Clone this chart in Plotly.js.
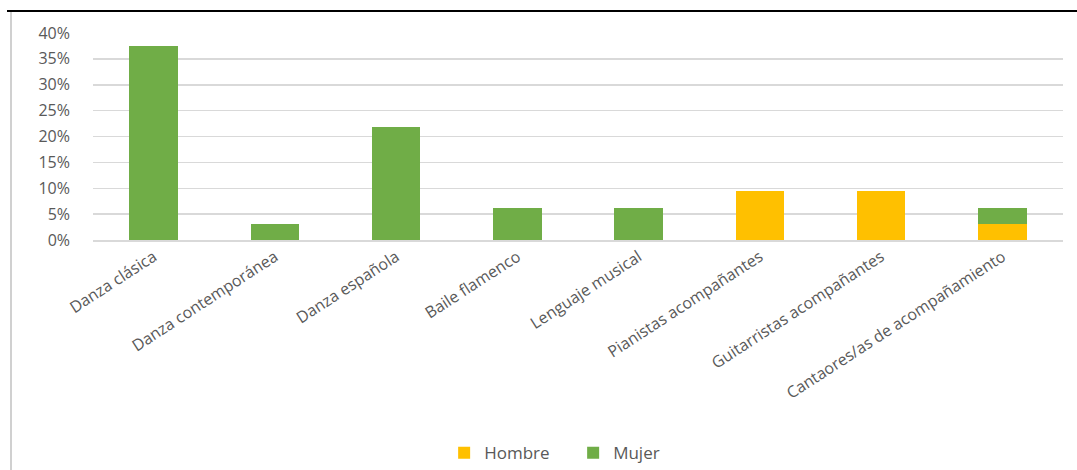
<!DOCTYPE html>
<html>
<head>
<meta charset="utf-8">
<script src="https://cdn.plot.ly/plotly-3.0.1.min.js"></script>
<style>
html,body{margin:0;padding:0;background:#fff;}
#chart{position:absolute;left:0;top:0;width:1077px;height:470px;}
#topline{position:absolute;left:7px;top:10px;width:1070px;height:2px;background:#000;}
#leftline{position:absolute;left:10px;top:12px;width:2px;height:458px;background:#d0d0d0;}
</style>
</head>
<body>
<div id="chart"></div>
<div id="topline"></div>
<div id="leftline"></div>
<script>
const categories = ["Danza clásica","Danza contemporánea","Danza española","Baile flamenco","Lenguaje musical","Pianistas acompañantes","Guitarristas acompañantes","Cantaores/as de acompañamiento"];
const hombre = [0, 0, 0, 0, 0, 0.09375, 0.09375, 0.03125];
const mujer = [0.375, 0.03125, 0.21875, 0.0625, 0.0625, 0, 0, 0.03125];
const seriesNames = ["Hombre","Mujer"];

const fontFam = '"Open Sans", Calibri, sans-serif';
const traces = [
  {type:'bar', name:seriesNames[0], x:categories, y:hombre, marker:{color:'#FFC000'}, hoverinfo:'skip'},
  {type:'bar', name:seriesNames[1], x:categories, y:mujer, marker:{color:'#70AD47'}, hoverinfo:'skip'}
];
const layout = {
  width:1077, height:470,
  barmode:'stack', bargap:0.6,
  margin:{l:93, r:14, t:33, b:230},
  paper_bgcolor:'rgba(0,0,0,0)', plot_bgcolor:'#fff',
  font:{family:fontFam, color:'#595959'},
  xaxis:{tickangle:-33, tickfont:{size:16, color:'#595959'}, showgrid:false, showline:true, linecolor:'#d9d9d9', linewidth:1.5, ticks:'', automargin:false},
  yaxis:{range:[0,0.4], dtick:0.05, tickformat:'.0%', tickfont:{size:16, color:'#595959'}, gridcolor:'#d9d9d9', gridwidth:1.5, zeroline:false, showline:false, ticks:'', automargin:false, ticklabelstandoff:22},
  showlegend:true,
  legend:{orientation:'h', xref:'paper', x:0.362, xanchor:'left', yref:'container', y:0.036, yanchor:'middle', font:{size:17, color:'#595959'}, traceorder:'normal', entrywidth:84, entrywidthmode:'pixels'}
};
Plotly.newPlot('chart', traces, layout, {displayModeBar:false, staticPlot:true});
</script>
</body>
</html>
